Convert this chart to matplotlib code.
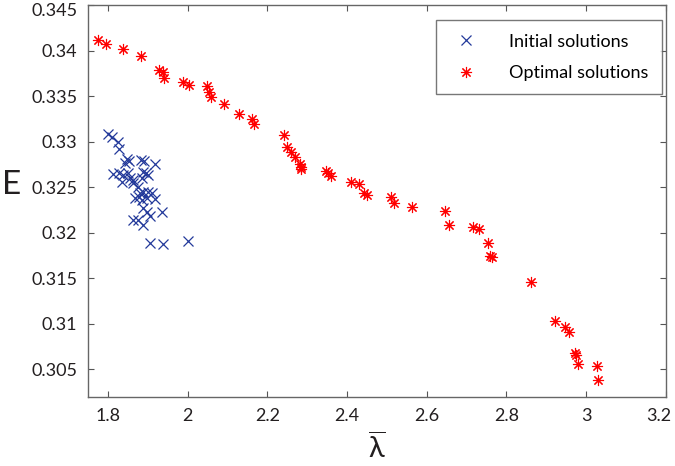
import matplotlib
matplotlib.use("Agg")
import matplotlib.pyplot as plt
import matplotlib.transforms as mtransforms

plt.rcParams['font.family'] = ['Lato', 'DejaVu Sans']
plt.rcParams['mathtext.fontset'] = 'custom'
plt.rcParams['mathtext.rm'] = 'Open Sans'
plt.rcParams['mathtext.default'] = 'regular'

# initial solutions (blue x)
init_lam = [1.799, 1.810, 1.825, 1.828, 1.846, 1.852, 1.843, 1.882, 1.890, 1.918,
            1.813, 1.827, 1.838, 1.849, 1.855, 1.863, 1.834, 1.888, 1.895, 1.901,
            1.884, 1.863, 1.876, 1.880, 1.888, 1.901, 1.909, 1.867, 1.878, 1.884,
            1.897, 1.918, 1.888, 1.897, 1.904, 1.936, 1.862, 1.876, 1.888, 1.904,
            1.938, 2.001]
init_E = [0.33084, 0.33048, 0.32993, 0.32916, 0.32806, 0.32791, 0.32762, 0.32798, 0.32791, 0.32754,
          0.32645, 0.32659, 0.32634, 0.32652, 0.32597, 0.32579, 0.32560, 0.32670, 0.32652, 0.32634,
          0.32597, 0.32549, 0.32505, 0.32440, 0.32450, 0.32450, 0.32433, 0.32378, 0.32396, 0.32360,
          0.32378, 0.32367, 0.32268, 0.32231, 0.32184, 0.32224, 0.32140, 0.32140, 0.32085, 0.31884,
          0.31873, 0.31909]

# optimal solutions (red *)
opt_lam = [1.775, 1.794, 1.838, 1.882, 1.927, 1.938, 1.940, 1.989, 2.003, 2.049,
           2.054, 2.058, 2.091, 2.128, 2.162, 2.165, 2.242, 2.248, 2.258, 2.268,
           2.282, 2.284, 2.284, 2.347, 2.351, 2.359, 2.410, 2.431, 2.443, 2.449,
           2.511, 2.517, 2.564, 2.645, 2.656, 2.717, 2.732, 2.753, 2.759, 2.764,
           2.861, 2.923, 2.948, 2.956, 2.973, 2.975, 2.979, 3.027, 3.031]
opt_E = [0.34120, 0.34069, 0.34014, 0.33940, 0.33790, 0.33764, 0.33700, 0.33651, 0.33622, 0.33611,
         0.33550, 0.33487, 0.33413, 0.33300, 0.33252, 0.33190, 0.33073, 0.32938, 0.32883, 0.32828,
         0.32754, 0.32718, 0.32696, 0.32681, 0.32652, 0.32626, 0.32560, 0.32535, 0.32433, 0.32414,
         0.32389, 0.32323, 0.32286, 0.32239, 0.32081, 0.32060, 0.32037, 0.31890, 0.31748, 0.31737,
         0.31462, 0.31034, 0.30962, 0.30913, 0.30676, 0.30654, 0.30559, 0.30537, 0.30383]

xticks = [1.8, 2, 2.2, 2.4, 2.6, 2.8, 3, 3.2]
xticklabels = ['1.8', '2', '2.2', '2.4', '2.6', '2.8', '3', '3.2']
yticks = [0.305, 0.31, 0.315, 0.32, 0.325, 0.33, 0.335, 0.34, 0.345]
yticklabels = ['0.305', '0.31', '0.315', '0.32', '0.325', '0.33', '0.335', '0.34', '0.345']

fig = plt.figure(figsize=(6.75, 4.66), dpi=100)
ax = fig.add_axes([0.1308, 0.1487, 0.8554, 0.8406])

ax.plot(init_lam, init_E, linestyle='none', marker='x', color='#23399a',
        markersize=7, markeredgewidth=0.9, label='Initial solutions')
ax.plot(opt_lam, opt_E, linestyle='none', marker=(8, 2, 0), color='#ff0000',
        markersize=8, markeredgewidth=0.8, label='Optimal solutions')

ax.set_xlim(1.75, 3.2)
ax.set_ylim(0.302, 0.345)
ax.set_xticks(xticks)
ax.set_xticklabels(xticklabels)
ax.set_yticks(yticks)
ax.set_yticklabels(yticklabels)
ax.tick_params(direction='in', top=True, right=True, length=4, width=0.8,
               color='#555555', labelsize=13, labelcolor='#231f20', pad=8)
for s in ax.spines.values():
    s.set_color('#666666')
    s.set_linewidth(1.0)

# keep the edge labels inside the canvas
last_x = ax.get_xticklabels()[-1]
last_x.set_transform(last_x.get_transform() + mtransforms.ScaledTranslation(-5 / 72, 0, fig.dpi_scale_trans))
top_y = ax.get_yticklabels()[-1]
top_y.set_transform(top_y.get_transform() + mtransforms.ScaledTranslation(0, -3 / 72, fig.dpi_scale_trans))

ax.set_xlabel(r'$\overline{\lambda}$', fontsize=21, color='#231f20', labelpad=6)
ax.set_ylabel('E', fontsize=24, color='#231f20', rotation=0, va='center', ha='center')
ax.yaxis.set_label_coords(-0.132, 0.54)

leg = ax.legend(loc='upper right', bbox_to_anchor=(0.9936, 0.9617), fontsize=13,
                frameon=True, fancybox=False, borderaxespad=0, handletextpad=1.5,
                handlelength=1.8, borderpad=0.75, labelspacing=0.85)
leg.get_frame().set_edgecolor('#555555')
leg.get_frame().set_linewidth(1.0)

fig.savefig('out.png', dpi=100)
